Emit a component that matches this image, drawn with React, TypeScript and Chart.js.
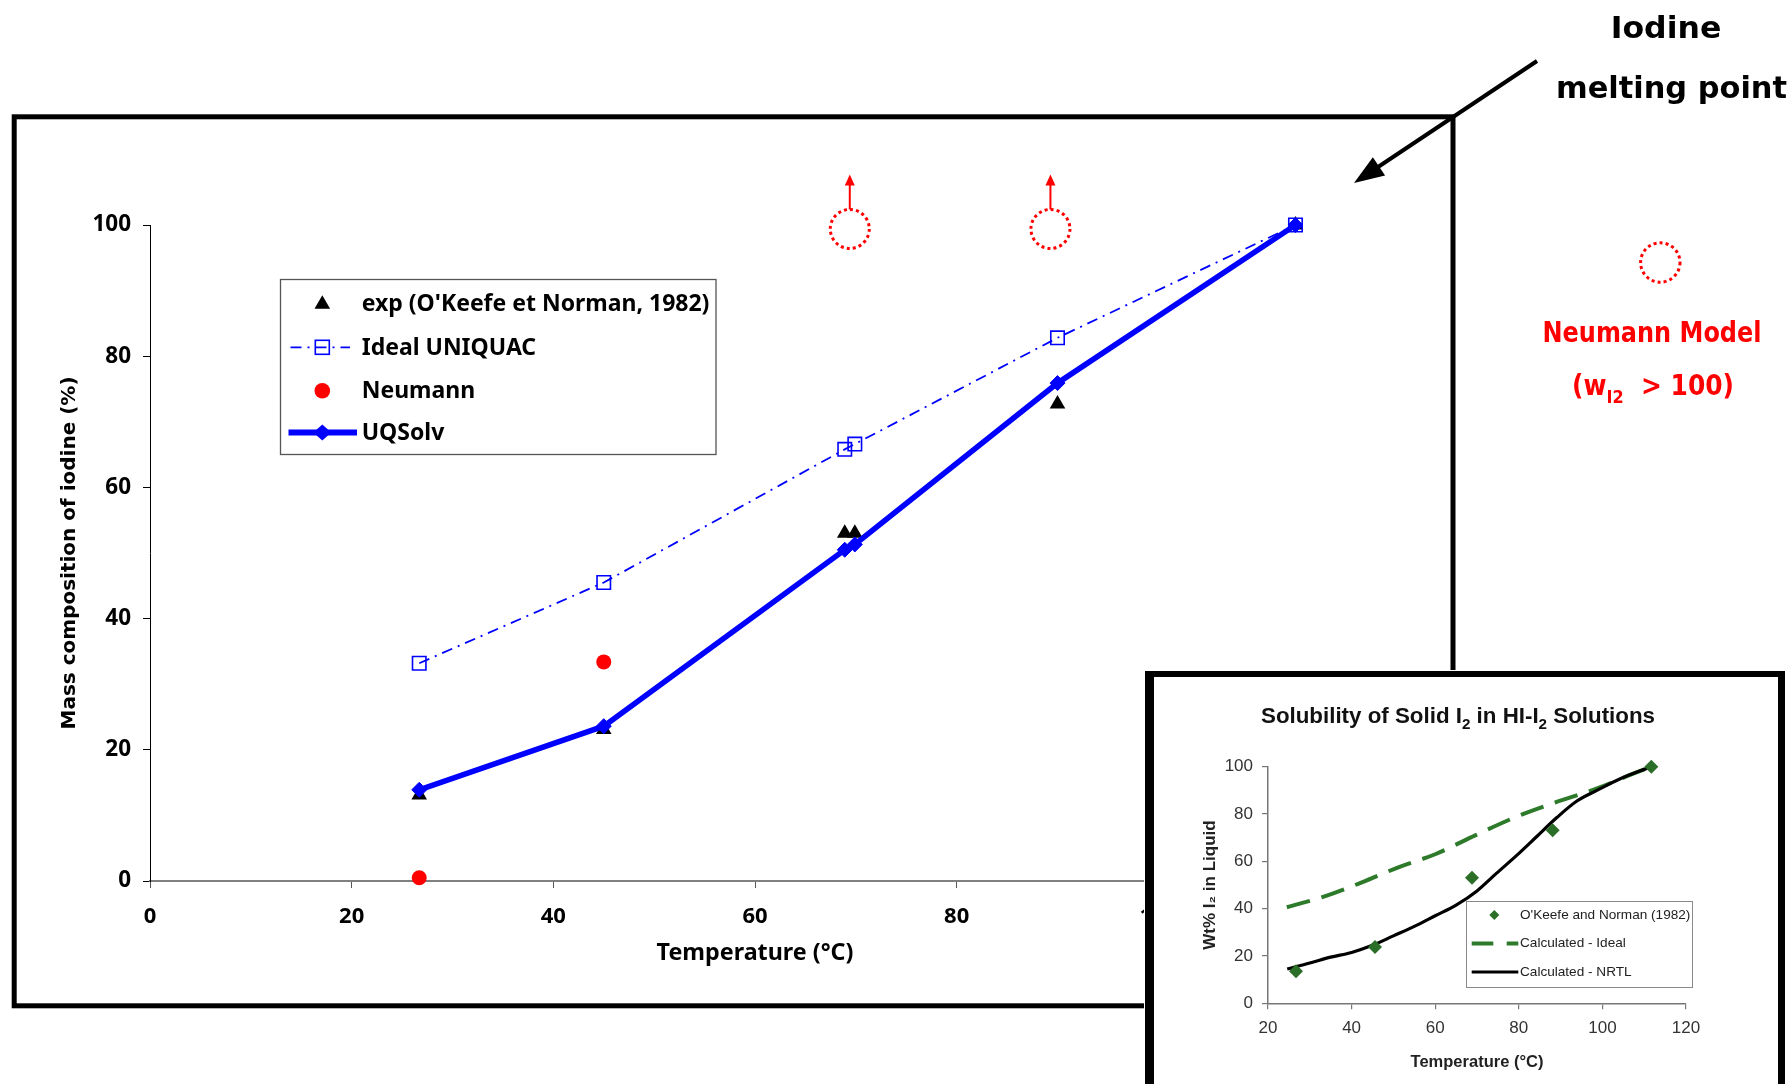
import React, { useEffect, useRef } from "react";
import { Chart, registerables } from "chart.js";

Chart.register(...registerables);

const W = 1791;
const H = 1084;
const INSET_LEFT = 1144;
const INSET_TOP = 670;
const INSET_W = W - INSET_LEFT;
const INSET_H = H - INSET_TOP;

// ---------------- main chart data ----------------
const temperatures = [26.7, 45, 68.9, 69.9, 90, 113.6];
const expValues = [13.1, 23.1, 53.0, 53.0, 72.7, 100];
const idealUniquacValues = [33.2, 45.5, 65.8, 66.6, 82.8, 100];
const uqsolvValues = [13.9, 23.6, 50.5, 51.3, 75.9, 100];
const neumannTemps = [26.7, 45];
const neumannValues = [0.5, 33.4];
const neumannAboveTemps = [69.4, 89.3];
const neumannAboveLevel = 99.4;
const mainXTicks = [0, 20, 40, 60, 80, 100, 120];
const mainYTicks = [0, 20, 40, 60, 80, 100];

// ---------------- inset chart data ----------------
const insetExpTemps = [26.7, 45.6, 68.8, 88.1, 111.7];
const insetExpValues = [13.5, 23.8, 53.1, 73.1, 100];
const insetIdealTemps = [24.5, 33.2, 42.3, 51.5, 60, 69.7, 79.5, 88.1, 98.7, 106.6, 111.7];
const insetIdealValues = [40.6, 45, 51, 57.7, 63, 71.1, 78.9, 84.5, 90.8, 96.5, 100];
const insetNrtlTemps = [24.6, 30, 35, 40, 45, 50, 55, 60, 65, 70, 74.7, 79.5, 84.3, 89.1, 93.9, 98.7, 104.4, 111.7];
const insetNrtlValues = [14.5, 17, 19.5, 21.5, 24.5, 28.5, 32.5, 37, 41.5, 47.5, 55, 62.5, 70.5, 78.5, 85.5, 90, 95, 100];
const insetXTicks = [20, 40, 60, 80, 100, 120];
const insetYTicks = [0, 20, 40, 60, 80, 100];

const BLUE = "#0000ff";
const RED = "#ff0000";
const GREEN = "#2b6e28";
const NOTO = "'Noto Sans', 'DejaVu Sans', sans-serif";
const DEJAVU = "'DejaVu Sans', sans-serif";
const LIB = "'Liberation Sans', Arial, sans-serif";

function pts(xs: number[], ys: number[]) {
  return xs.map((x, i) => ({ x, y: ys[i] }));
}

function fitText(ctx: any, text: string, cx: number, baseline: number, font: string, color: string, width?: number) {
  ctx.save();
  ctx.font = font;
  ctx.fillStyle = color;
  ctx.textAlign = "center";
  ctx.textBaseline = "alphabetic";
  const w = ctx.measureText(text).width;
  const k = width ? width / w : 1;
  ctx.translate(cx, baseline);
  ctx.scale(k, 1);
  ctx.fillText(text, 0, 0);
  ctx.restore();
}

function richText(ctx: any, segs: { t: string; sub?: boolean }[], cx: number, baseline: number, size: number,
  family: string, weight: string, color: string, width?: number, subScale = 0.65, subDrop = 0.28) {
  ctx.save();
  const fontOf = (s: any) => `${weight} ${s.sub ? Math.round(size * subScale) : size}px ${family}`;
  let total = 0;
  const ws = segs.map((s) => {
    ctx.font = fontOf(s);
    const w = ctx.measureText(s.t).width;
    total += w;
    return w;
  });
  const k = width ? width / total : 1;
  ctx.translate(cx, baseline);
  ctx.scale(k, 1);
  let x = -total / 2;
  ctx.fillStyle = color;
  ctx.textAlign = "left";
  ctx.textBaseline = "alphabetic";
  segs.forEach((s, i) => {
    ctx.font = fontOf(s);
    ctx.fillText(s.t, x, s.sub ? size * subDrop : 0);
    x += ws[i];
  });
  ctx.restore();
}

function arrow(ctx: any, x1: number, y1: number, x2: number, y2: number, lw: number, headLen: number, headHalf: number, color: string) {
  const ang = Math.atan2(y2 - y1, x2 - x1);
  const bx = x2 - Math.cos(ang) * headLen;
  const by = y2 - Math.sin(ang) * headLen;
  ctx.save();
  ctx.setLineDash([]);
  ctx.strokeStyle = color;
  ctx.fillStyle = color;
  ctx.lineWidth = lw;
  ctx.beginPath();
  ctx.moveTo(x1, y1);
  ctx.lineTo(bx + Math.cos(ang) * 2, by + Math.sin(ang) * 2);
  ctx.stroke();
  ctx.beginPath();
  ctx.moveTo(x2, y2);
  ctx.lineTo(bx - Math.sin(ang) * headHalf, by + Math.cos(ang) * headHalf);
  ctx.lineTo(bx + Math.sin(ang) * headHalf, by - Math.cos(ang) * headHalf);
  ctx.closePath();
  ctx.fill();
  ctx.restore();
}

function dottedCircle(ctx: any, cx: number, cy: number, r: number) {
  ctx.save();
  ctx.strokeStyle = RED;
  ctx.lineWidth = 3;
  ctx.setLineDash([3, 3.1]);
  ctx.beginPath();
  ctx.arc(cx, cy, r, 0, Math.PI * 2);
  ctx.stroke();
  ctx.restore();
}

function triangle(ctx: any, x: number, y: number, r: number, color: string) {
  ctx.beginPath();
  ctx.moveTo(x, y - r);
  ctx.lineTo(x + 0.866 * r, y + 0.5 * r);
  ctx.lineTo(x - 0.866 * r, y + 0.5 * r);
  ctx.closePath();
  ctx.fillStyle = color;
  ctx.fill();
}

function diamond(ctx: any, x: number, y: number, hw: number, hh: number, color: string) {
  ctx.beginPath();
  ctx.moveTo(x, y - hh);
  ctx.lineTo(x + hw, y);
  ctx.lineTo(x, y + hh);
  ctx.lineTo(x - hw, y);
  ctx.closePath();
  ctx.fillStyle = color;
  ctx.fill();
}

const whiteBg = {
  id: "whiteBg",
  beforeDraw(chart: any) {
    const ctx = chart.ctx;
    ctx.save();
    ctx.fillStyle = "#ffffff";
    ctx.fillRect(0, 0, chart.width, chart.height);
    ctx.restore();
  },
};

const mainDecor = {
  id: "mainDecor",
  afterDraw(chart: any) {
    const ctx = chart.ctx;
    const xs = chart.scales.x;
    const ys = chart.scales.y;

    // frame
    ctx.save();
    ctx.strokeStyle = "#000";
    ctx.lineWidth = 5;
    ctx.lineJoin = "miter";
    ctx.strokeRect(14.2, 116.8, 1453 - 14.2, 1005.8 - 116.8);
    ctx.restore();

    // legend
    ctx.save();
    ctx.fillStyle = "#fff";
    ctx.fillRect(280.5, 279.5, 435.5, 175);
    ctx.strokeStyle = "#555";
    ctx.lineWidth = 1.3;
    ctx.strokeRect(280.5, 279.5, 435.5, 175);
    const rows = [303.3, 347.3, 390.7, 432.5];
    const mx = 322.3;
    chart.data.datasets.forEach((ds: any, i: number) => {
      const y = rows[i];
      if (ds.pointStyle === "triangle") {
        triangle(ctx, mx, y + 1, 9, ds.pointBackgroundColor);
      } else if (ds.pointStyle === "rect") {
        ctx.save();
        ctx.strokeStyle = ds.borderColor;
        ctx.lineWidth = ds.borderWidth;
        ctx.setLineDash(ds.borderDash);
        ctx.beginPath();
        ctx.moveTo(290.5, y);
        ctx.lineTo(350, y);
        ctx.stroke();
        ctx.setLineDash([]);
        ctx.lineWidth = ds.pointBorderWidth;
        ctx.strokeRect(mx - 7, y - 7, 14, 14);
        ctx.restore();
      } else if (ds.pointStyle === "circle") {
        ctx.beginPath();
        ctx.arc(mx, y, 7.8, 0, Math.PI * 2);
        ctx.fillStyle = ds.pointBackgroundColor;
        ctx.fill();
      } else if (ds.pointStyle === "rectRot") {
        ctx.save();
        ctx.strokeStyle = ds.borderColor;
        ctx.lineWidth = ds.borderWidth + 0.4;
        ctx.beginPath();
        ctx.moveTo(288.5, y);
        ctx.lineTo(357, y);
        ctx.stroke();
        diamond(ctx, mx, y, 9, 8, ds.pointBackgroundColor);
        ctx.restore();
      }
      ctx.fillStyle = "#000";
      ctx.font = `bold 23px ${NOTO}`;
      ctx.textAlign = "left";
      ctx.textBaseline = "middle";
      ctx.fillText(ds.label, 361.7, y + 1);
    });
    ctx.restore();

    // Neumann values above 100 (dotted circle + upward arrow)
    neumannAboveTemps.forEach((t) => {
      const cx = xs.getPixelForValue(t);
      const cy = ys.getPixelForValue(neumannAboveLevel);
      const r = 19.5;
      dottedCircle(ctx, cx, cy, r);
      arrow(ctx, cx, cy - r, cx, cy - r - 35, 2, 11, 5, RED);
    });

    // Iodine melting point annotation
    arrow(ctx, 1537, 61, 1354, 183, 4, 30, 11, "#000");
    fitText(ctx, "Iodine", 1666, 37.7, `bold 31px ${DEJAVU}`, "#000", 110.7);
    fitText(ctx, "melting point", 1671.5, 98.3, `bold 31px ${DEJAVU}`, "#000", 231);

    // Neumann model key
    dottedCircle(ctx, 1660.3, 262.5, 19.7);
    fitText(ctx, "Neumann Model", 1652, 341.7, `bold 28px ${DEJAVU}`, RED, 219);
    richText(ctx, [{ t: "(w" }, { t: "I2", sub: true }, { t: "  > 100)" }], 1653, 395, 28, DEJAVU, "bold", RED, 162);
  },
};

const insetDecor = {
  id: "insetDecor",
  afterDraw(chart: any) {
    const ctx = chart.ctx;
    // frame (left, top, right bars)
    ctx.save();
    ctx.fillStyle = "#000";
    ctx.fillRect(1, 1, 9, INSET_H);
    ctx.fillRect(1, 1, 640, 6);
    ctx.fillRect(634, 1, 7, INSET_H);
    ctx.restore();

    // title
    richText(ctx, [{ t: "Solubility of Solid I" }, { t: "2", sub: true }, { t: " in HI-I" }, { t: "2", sub: true }, { t: " Solutions" }],
      314, 53, 22, LIB, "bold", "#111", 394, 0.68, 0.25);

    // legend
    ctx.save();
    ctx.fillStyle = "#fff";
    ctx.fillRect(322, 231, 226, 86);
    ctx.strokeStyle = "#8a8a8a";
    ctx.lineWidth = 1;
    ctx.strokeRect(322.5, 231.5, 226, 86);
    const rows = [245, 273.5, 302];
    chart.data.datasets.forEach((ds: any, i: number) => {
      const y = rows[i];
      if (ds.pointStyle === "rectRot" && !ds.showLine) {
        diamond(ctx, 350.3, y, 5, 5, ds.pointBackgroundColor);
      } else {
        ctx.save();
        ctx.strokeStyle = ds.borderColor;
        ctx.lineWidth = ds.borderWidth;
        ctx.setLineDash(ds.borderDash && ds.borderDash.length ? [21.6, 13.4] : []);
        ctx.beginPath();
        ctx.moveTo(327.7, y);
        ctx.lineTo(374.3, y);
        ctx.stroke();
        ctx.restore();
      }
      ctx.fillStyle = "#222";
      ctx.font = `13.6px ${LIB}`;
      ctx.textAlign = "left";
      ctx.textBaseline = "middle";
      ctx.fillText(ds.label, 376, y);
    });
    ctx.restore();
  },
};

function mainConfig(): any {
  return {
    type: "scatter",
    data: {
      datasets: [
        {
          label: "exp (O'Keefe et Norman, 1982)",
          data: pts(temperatures, expValues),
          showLine: false,
          pointStyle: "triangle",
          pointRadius: 9,
          pointBackgroundColor: "#000",
          pointBorderColor: "#000",
          pointBorderWidth: 0,
          order: 4,
          clip: false,
        },
        {
          label: "Ideal UNIQUAC",
          data: pts(temperatures, idealUniquacValues),
          showLine: true,
          borderColor: BLUE,
          borderWidth: 1.8,
          borderDash: [11, 6, 2, 6],
          pointStyle: "rect",
          pointRadius: 9.5,
          pointBackgroundColor: "rgba(0,0,0,0)",
          pointBorderColor: BLUE,
          pointBorderWidth: 1.6,
          order: 2,
          clip: false,
        },
        {
          label: "Neumann",
          data: pts(neumannTemps, neumannValues),
          showLine: false,
          pointStyle: "circle",
          pointRadius: 7.5,
          pointBackgroundColor: RED,
          pointBorderColor: RED,
          pointBorderWidth: 0,
          order: 3,
          clip: false,
        },
        {
          label: "UQSolv",
          data: pts(temperatures, uqsolvValues),
          showLine: true,
          borderColor: BLUE,
          borderWidth: 5.5,
          pointStyle: "rectRot",
          pointRadius: 7.5,
          pointBackgroundColor: BLUE,
          pointBorderColor: BLUE,
          pointBorderWidth: 1,
          order: 1,
          clip: false,
        },
      ],
    },
    options: {
      responsive: false,
      animation: false,
      devicePixelRatio: 1,
      events: [],
      layout: { padding: { left: 0, top: 225, right: 431, bottom: 93 } },
      plugins: { legend: { display: false }, tooltip: { enabled: false }, title: { display: false } },
      scales: {
        x: {
          type: "linear",
          min: 0,
          max: 120,
          afterBuildTicks: (s: any) => { s.ticks = mainXTicks.map((v) => ({ value: v })); },
          afterFit: (s: any) => { s.height = 110; s.paddingLeft = 0; s.paddingRight = 0; },
          grid: { display: true, drawOnChartArea: false, drawTicks: true, tickLength: 7, color: "#555", lineWidth: 1 },
          border: { display: true, color: "#808080", width: 2 },
          ticks: { color: "#000", font: { family: NOTO, weight: "bold", size: 22 }, padding: 15.5, maxRotation: 0, autoSkip: false },
          title: { display: true, text: "Temperature (°C)", color: "#000", font: { family: NOTO, weight: "bold", size: 23.3 }, padding: { top: 0, bottom: 24 } },
        },
        y: {
          type: "linear",
          min: 0,
          max: 100,
          afterBuildTicks: (s: any) => { s.ticks = mainYTicks.map((v) => ({ value: v })); },
          afterFit: (s: any) => { s.width = 150; s.paddingTop = 0; s.paddingBottom = 0; },
          grid: { display: true, drawOnChartArea: false, drawTicks: true, tickLength: 7, color: "#000", lineWidth: 1 },
          border: { display: true, color: "#000", width: 1 },
          ticks: { color: "#000", font: { family: NOTO, weight: "bold", size: 22.5 }, padding: 12, autoSkip: false },
          title: { display: true, text: "Mass composition of iodine (%)", color: "#000", font: { family: DEJAVU, weight: "bold", size: 20 }, padding: { top: 58, bottom: 0 } },
        },
      },
    },
    plugins: [whiteBg, mainDecor],
  };
}

function insetConfig(): any {
  return {
    type: "scatter",
    data: {
      datasets: [
        {
          label: "O'Keefe and Norman (1982)",
          data: pts(insetExpTemps, insetExpValues),
          showLine: false,
          pointStyle: "rectRot",
          pointRadius: 7,
          pointBackgroundColor: GREEN,
          pointBorderColor: GREEN,
          pointBorderWidth: 0,
          order: 1,
          clip: false,
        },
        {
          label: "Calculated - Ideal",
          data: pts(insetIdealTemps, insetIdealValues),
          showLine: true,
          borderColor: "#2e7a2b",
          borderWidth: 4,
          borderDash: [24, 12],
          pointRadius: 0,
          tension: 0.3,
          cubicInterpolationMode: "monotone",
          order: 3,
        },
        {
          label: "Calculated - NRTL",
          data: pts(insetNrtlTemps, insetNrtlValues),
          showLine: true,
          borderColor: "#000",
          borderWidth: 3.2,
          borderDash: [],
          pointRadius: 0,
          cubicInterpolationMode: "monotone",
          order: 2,
        },
      ],
    },
    options: {
      responsive: false,
      animation: false,
      devicePixelRatio: 1,
      events: [],
      layout: { padding: { left: 0, top: 96.7, right: 105, bottom: 10.7 } },
      plugins: { legend: { display: false }, tooltip: { enabled: false }, title: { display: false } },
      scales: {
        x: {
          type: "linear",
          min: 20,
          max: 120,
          afterBuildTicks: (s: any) => { s.ticks = insetXTicks.map((v) => ({ value: v })); },
          afterFit: (s: any) => { s.height = 70; s.paddingLeft = 0; s.paddingRight = 0; },
          grid: { display: true, drawOnChartArea: false, drawTicks: true, tickLength: 6, color: "#777", lineWidth: 1.2 },
          border: { display: true, color: "#777", width: 1.5 },
          ticks: { color: "#333", font: { family: LIB, size: 17 }, padding: 8.8, maxRotation: 0, autoSkip: false },
          title: { display: true, text: "Temperature (°C)", color: "#222", font: { family: LIB, weight: "bold", size: 16.5 }, padding: { top: 0, bottom: 1.4 } },
        },
        y: {
          type: "linear",
          min: 0,
          max: 100,
          afterBuildTicks: (s: any) => { s.ticks = insetYTicks.map((v) => ({ value: v })); },
          afterFit: (s: any) => { s.width = 124; s.paddingTop = 0; s.paddingBottom = 0; },
          grid: { display: true, drawOnChartArea: false, drawTicks: true, tickLength: 6, color: "#777", lineWidth: 1.2 },
          border: { display: true, color: "#777", width: 1.5 },
          ticks: { color: "#333", font: { family: LIB, size: 17 }, padding: 9, autoSkip: false },
          title: { display: true, text: "Wt% I₂ in Liquid", color: "#222", font: { family: LIB, weight: "bold", size: 17 }, padding: { top: 55.8, bottom: 0 } },
        },
      },
    },
    plugins: [whiteBg, insetDecor],
  };
}

export default function App() {
  const mainRef = useRef<HTMLCanvasElement>(null);
  const insetRef = useRef<HTMLCanvasElement>(null);

  useEffect(() => {
    const main = new Chart(mainRef.current as HTMLCanvasElement, mainConfig());
    const inset = new Chart(insetRef.current as HTMLCanvasElement, insetConfig());
    return () => {
      main.destroy();
      inset.destroy();
    };
  }, []);

  return (
    <div style={{ position: "fixed", left: 0, top: 0, width: W, height: H, overflow: "hidden", background: "#fff" }}>
      <div style={{ position: "absolute", left: 0, top: 0, width: W, height: H }}>
        <canvas ref={mainRef} width={W} height={H} style={{ display: "block", width: W, height: H }} />
      </div>
      <div style={{ position: "absolute", left: INSET_LEFT, top: INSET_TOP, width: INSET_W, height: INSET_H }}>
        <canvas ref={insetRef} width={INSET_W} height={INSET_H} style={{ display: "block", width: INSET_W, height: INSET_H }} />
      </div>
    </div>
  );
}
